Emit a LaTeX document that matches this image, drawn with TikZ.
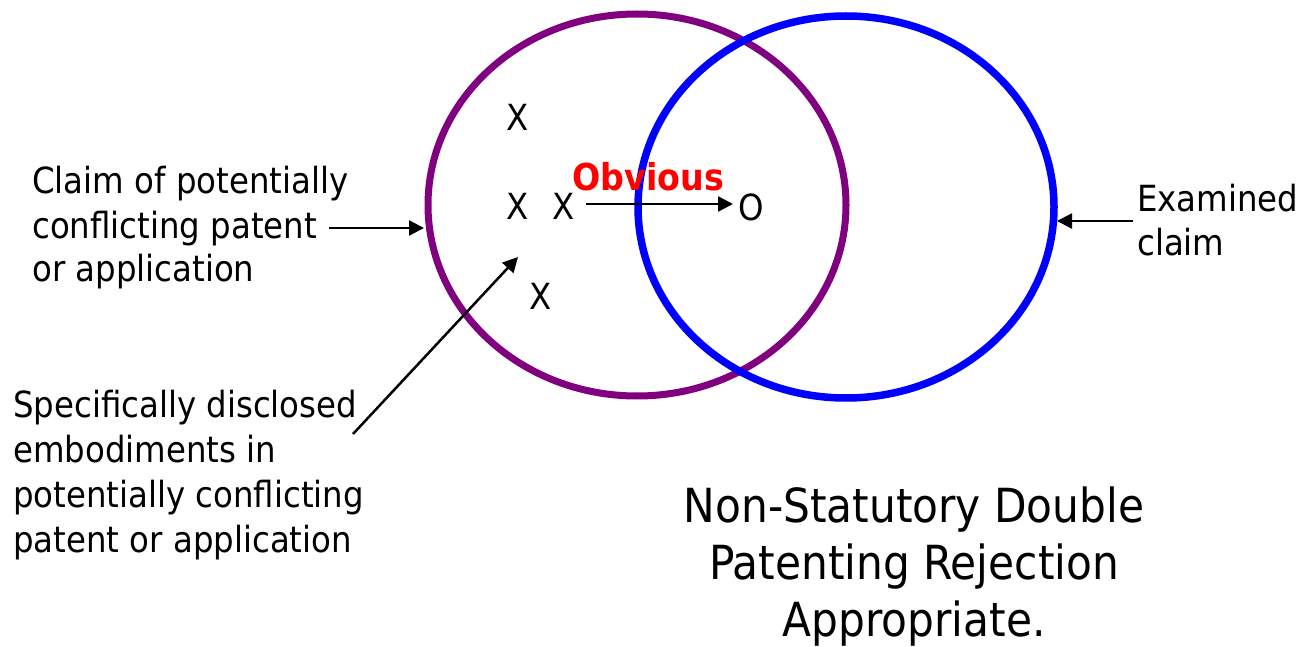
\documentclass[tikz,border=0pt]{standalone}
\usepackage{fontspec}
\setmainfont{DejaVu Sans}[FakeStretch=0.90]
\usetikzlibrary{arrows.meta}
\definecolor{vpurple}{HTML}{800080}
\definecolor{vblue}{HTML}{0000FF}
\begin{document}
\begin{tikzpicture}[x=1pt,y=-1pt,
  lbl/.style={inner sep=0pt,anchor=base west,font=\fontsize{36}{44}\selectfont},
  xmk/.style={inner sep=0pt,anchor=base,font=\fontsize{36}{44}\selectfont},
  ttl/.style={inner sep=0pt,anchor=base,font=\fontsize{47}{56}\selectfont},
  arr/.style={line width=2.5pt,-{Triangle[length=15pt,width=15pt]}}]
\useasboundingbox (0,0) rectangle (1301,647);
\draw[vpurple,line width=7pt] (637,205) ellipse [x radius=209,y radius=191];
\draw[vblue,line width=7.5pt] (846,207) ellipse [x radius=208,y radius=191];
\coordinate (pl) at (424,228);
\coordinate (br) at (1057,221);
\coordinate (ptr) at (518,257);
\node[xmk] (x1) at (518,131) {X};
\node[xmk] (x2) at (518,220) {X};
\node[xmk] (x3) at (564,220) {X};
\node[xmk] (x4) at (541,309) {X};
\node[xmk] (o) at (751,221) {O};
\node[inner sep=0pt,anchor=base,text=red,font=\fontsize{37}{44}\selectfont\bfseries] (obv) at (648,191) {Obvious};
\coordinate (os) at (586,204);
\coordinate (oe) at (733,204);
\draw[arr] (os) -- (oe);
\node[lbl] (c1) at (32,194) {Claim of potentially};
\node[lbl] (c2) at (32,238) {conflicting patent};
\node[lbl] (c3) at (32,281) {or application};
\coordinate (cs) at (329,228);
\draw[arr] (cs) -- (pl);
\node[lbl] (s1) at (13,417) {Specifically disclosed};
\node[lbl] (s2) at (13,462) {embodiments in};
\node[lbl] (s3) at (13,507) {potentially conflicting};
\node[lbl] (s4) at (13,552) {patent or application};
\coordinate (ss) at (353,434);
\draw[arr] (ss) -- (ptr);
\node[lbl] (e1) at (1137,212) {Examined};
\node[lbl] (e2) at (1137,255) {claim};
\coordinate (es) at (1133,221);
\draw[arr] (es) -- (br);
\node[ttl] (t1) at (914,522) {Non-Statutory Double};
\node[ttl] (t2) at (914,579) {Patenting Rejection};
\node[ttl] (t3) at (914,636) {Appropriate.};
\end{tikzpicture}
\end{document}
